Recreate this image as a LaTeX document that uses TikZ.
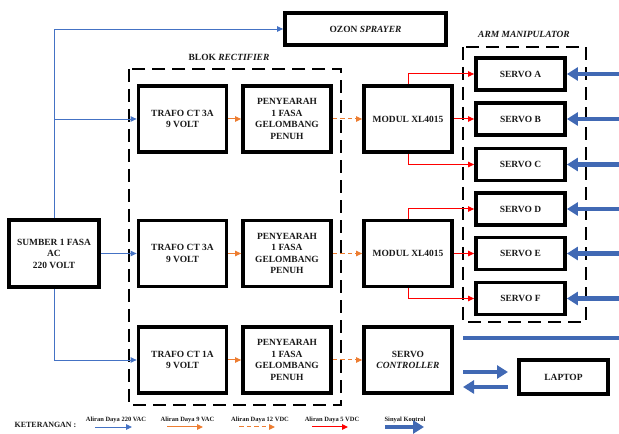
\documentclass[tikz,border=0pt]{standalone}
\usepackage{fontspec}
\setmainfont{Liberation Serif}
\usetikzlibrary{arrows.meta,calc}
\definecolor{AcBlue}{HTML}{4472C4}
\definecolor{AcOrange}{HTML}{ED7D31}
\definecolor{DcRed}{HTML}{FF0000}
\definecolor{SigBlue}{HTML}{4169B4}
\definecolor{Ink}{HTML}{1A1A1A}

\begin{document}
\begin{tikzpicture}[
    x=10bp, y=10bp,
    font=\bfseries\fontsize{9.5}{11.5}\selectfont,
    text=Ink,
    block/.style={
        draw,
        line width=3.8bp,
        minimum width=88bp,
        minimum height=66bp,
        align=center,
        inner sep=2bp
    },
    servo/.style={block, minimum width=89bp, minimum height=32bp},
    group/.style={draw, line width=2.2bp, dash pattern=on 13bp off 7bp},
    ac220/.style={-{Triangle[length=6bp,width=5.5bp]}, line width=0.9bp, draw=AcBlue},
    ac9/.style={-{Triangle[length=6bp,width=5.5bp]}, line width=1bp, draw=AcOrange},
    dc12/.style={ac9, dash pattern=on 4.5bp off 3bp},
    dc5/.style={-{Triangle[length=6bp,width=5.5bp]}, line width=1bp, draw=DcRed},
    ctrl/.style={-{Triangle[length=11bp,width=13bp]}, line width=4.5bp, draw=SigBlue},
    legend/.style={font=\bfseries\fontsize{6.5}{8}\selectfont}
]
\useasboundingbox (0,0) rectangle (61.9,43.4);

% Dashed groups
\draw[group] (12.9,36.5) rectangle (34.1,2.9);
\node at (22.9,37.7) {BLOK \textit{RECTIFIER}};
\draw[group] (46.3,38.7) rectangle (58.6,11.2);
\node at (52.4,40.0) {\textit{ARM MANIPULATOR}};

% Source and sprayer
\node[block, minimum width=90bp, minimum height=67bp] (sumber) at (5.4,18.05)
    {SUMBER 1 FASA\\AC\\220 VOLT};
\node[block, minimum width=161bp, minimum height=32bp] (ozon) at (36.55,40.5)
    {OZON \textit{SPRAYER}};

% Rectifier rows
\node[block] (trafo1) at (18.25,31.5) {TRAFO CT 3A\\9 VOLT};
\node[block] (trafo2) at (18.25,18.05) {TRAFO CT 3A\\9 VOLT};
\node[block] (trafo3) at (18.25,7.4) {TRAFO CT 1A\\9 VOLT};
\foreach \i/\y in {1/31.5,2/18.05,3/7.4}
    \node[block] (peny\i) at (28.7,\y) {PENYEARAH\\1 FASA\\GELOMBANG\\PENUH};

\node[block] (modul1) at (40.8,31.5) {MODUL XL4015};
\node[block] (modul2) at (40.8,18.05) {MODUL XL4015};
\node[block] (sc) at (40.8,7.4) {SERVO\\\textit{CONTROLLER}};

% Servos with their control signals
\foreach \s/\y in {A/36.0,B/31.5,C/26.95,D/22.5,E/18.05,F/13.55} {
    \node[servo] (srv\s) at (52.05,\y) {SERVO \s};
    \coordinate (in\s) at (61.9,\y);
    \draw[ctrl] (in\s) -- (srv\s.east);
}

\node[block, minimum width=89bp, minimum height=34bp] (laptop) at (56.35,5.7) {LAPTOP};

% 220 VAC
\draw[ac220] (sumber.north) |- (ozon.west);
\draw[ac220] (sumber.north) |- (trafo1.west);
\draw[ac220] (sumber.east) -- (trafo2.west);
\draw[ac220] (sumber.south) |- (trafo3.west);

% 9 VAC and 12 VDC
\foreach \i in {1,2,3}
    \draw[ac9] (trafo\i.east) -- (peny\i.west);
\draw[dc12] (peny1.east) -- (modul1.west);
\draw[dc12] (peny2.east) -- (modul2.west);
\draw[dc12] (peny3.east) -- (sc.west);

% 5 VDC
\draw[dc5] (modul1.north) |- (srvA.west);
\draw[dc5] (modul1.east) -- (srvB.west);
\draw[dc5] (modul1.south) |- (srvC.west);
\draw[dc5] (modul2.north) |- (srvD.west);
\draw[dc5] (modul2.east) -- (srvE.west);
\draw[dc5] (modul2.south) |- (srvF.west);

% Control bus and laptop link
\coordinate (bus1) at (46.3,9.6);
\coordinate (bus2) at (61.9,9.6);
\draw[line width=4.5bp, draw=SigBlue] (bus1) -- (bus2);
\coordinate (tx1) at (46.3,6.2);
\coordinate (tx2) at (50.8,6.2);
\coordinate (rx1) at (50.8,4.7);
\coordinate (rx2) at (46.3,4.7);
\draw[ctrl] (tx1) -- (tx2);
\draw[ctrl] (rx1) -- (rx2);

% Legend
\node[font=\bfseries\fontsize{8}{10}\selectfont] (ket) at (4.55,0.9) {KETERANGAN :};
\node[legend] (lg1) at (11.6,1.4) {Aliran Daya 220 VAC};
\node[legend] (lg2) at (18.75,1.4) {Aliran Daya 9 VAC};
\node[legend] (lg3) at (26.0,1.4) {Aliran Daya 12 VDC};
\node[legend] (lg4) at (33.2,1.4) {Aliran Daya 5 VDC};
\node[legend] (lg5) at (40.5,1.4) {Sinyal Kontrol};
\foreach \n/\a/\b/\st in {1/9.5/13.2/ac220,2/16.7/20.3/ac9,3/23.9/27.5/dc12,4/31.2/34.8/dc5} {
    \coordinate (la\n) at (\a,0.7);
    \coordinate (lb\n) at (\b,0.7);
    \draw[\st] (la\n) -- (lb\n);
}
\coordinate (la5) at (38.5,0.7);
\coordinate (lb5) at (42.4,0.7);
\draw[ctrl] (la5) -- (lb5);

\end{tikzpicture}
\end{document}
